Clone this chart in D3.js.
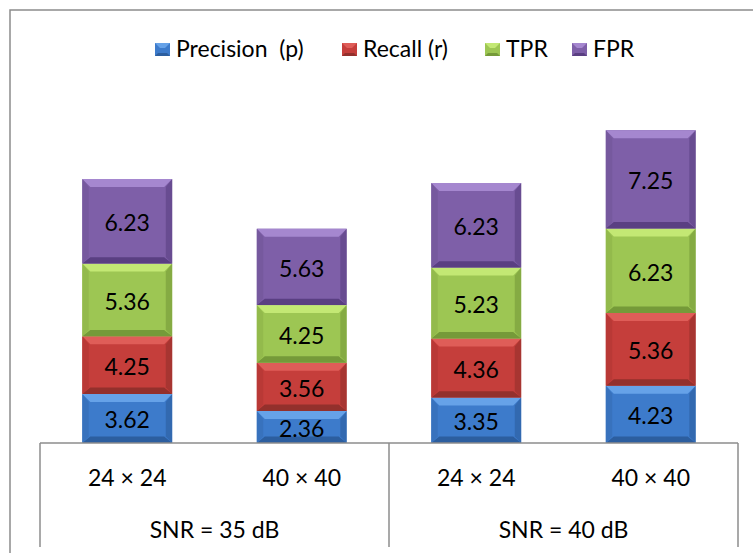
<!DOCTYPE html>
<html>
<head>
<meta charset="utf-8">
<script src="https://cdn.jsdelivr.net/npm/d3@7"></script>
<style>
  body { margin: 0; background: #fff; }
  svg { display: block; font-family: Lato, "Open Sans", sans-serif; }
</style>
</head>
<body>
<svg id="chart" width="753" height="553"></svg>
<script>
const categories = ["24 × 24", "40 × 40", "24 × 24", "40 × 40"];
const groups = ["SNR = 35 dB", "SNR = 40 dB"];
const seriesNames = ["Precision  (p)", "Recall (r)", "TPR", "FPR"];
const precision = [3.62, 2.36, 3.35, 4.23];
const recall = [4.25, 3.56, 4.36, 5.36];
const tpr = [5.36, 4.25, 5.23, 6.23];
const fpr = [6.23, 5.63, 6.23, 7.25];
const seriesValues = [precision, recall, tpr, fpr];
const colors = [
  { main: "#3d7bcb", light: "#66a2e8", dark: "#2c5e9f", side: "#3872bd" },
  { main: "#c53e3b", light: "#df5d58", dark: "#93302c", side: "#b93936" },
  { main: "#9dc653", light: "#c3e874", dark: "#759a39", side: "#93ba4c" },
  { main: "#7e5fa8", light: "#a587cf", dark: "#5a3f82", side: "#76599e" }
];

const svg = d3.select("#chart");
const left = 40, right = 738, baseY = 443;

svg.append("path").attr("d", "M10,553 V10 H753").attr("fill", "none")
  .attr("stroke", "#8c8c8c").attr("stroke-width", 1.5);

const x = d3.scaleBand().domain(d3.range(categories.length)).range([left, right]).paddingInner(0.485).paddingOuter(0.2425);
const y = d3.scaleLinear().domain([0, 25]).range([baseY, 104]);

const rows = categories.map((c, i) => {
  const o = { i };
  seriesNames.forEach((s, k) => o[s] = seriesValues[k][i]);
  return o;
});
const stack = d3.stack().keys(seriesNames)(rows);

const bev = 8;
stack.forEach((layer, k) => {
  const c = colors[k];
  const g = svg.append("g");
  layer.forEach(d => {
    const x0 = x(d.data.i), x1 = x0 + x.bandwidth();
    const yT = y(d[1]), yB = y(d[0]);
    const h = yB - yT;
    const b = Math.min(bev, h / 3);
    const seg = g.append("g");
    seg.append("rect").attr("x", x0).attr("y", yT).attr("width", x1 - x0).attr("height", h).attr("fill", c.main);
    seg.append("polygon").attr("points", [[x0, yT], [x1, yT], [x1 - b, yT + b], [x0 + b, yT + b]].join(" ")).attr("fill", c.light);
    seg.append("polygon").attr("points", [[x0, yB], [x1, yB], [x1 - b, yB - b * 0.8], [x0 + b, yB - b * 0.8]].join(" ")).attr("fill", c.dark);
    seg.append("polygon").attr("points", [[x0, yT], [x0 + b * 0.8, yT + b], [x0 + b * 0.8, yB - b * 0.8], [x0, yB]].join(" ")).attr("fill", c.side);
    seg.append("polygon").attr("points", [[x1, yT], [x1 - b * 0.8, yT + b], [x1 - b * 0.8, yB - b * 0.8], [x1, yB]].join(" ")).attr("fill", c.dark).attr("opacity", 0.6);
    seg.append("text").attr("x", (x0 + x1) / 2).attr("y", (yT + yB) / 2 + 10)
      .attr("text-anchor", "middle").attr("font-size", 23).attr("fill", "#000")
      .text(seriesValues[k][d.data.i].toFixed(2));
  });
});

const axisCol = "#8c8c8c";
svg.append("line").attr("x1", left).attr("x2", right).attr("y1", baseY).attr("y2", baseY).attr("stroke", axisCol).attr("stroke-width", 1.5);
const sepXs = [left, (x(1) + x.bandwidth() + x(2)) / 2, right];
sepXs.forEach(sx => {
  svg.append("line").attr("x1", sx).attr("x2", sx).attr("y1", baseY).attr("y2", 547).attr("stroke", axisCol).attr("stroke-width", 1.5);
});

categories.forEach((c, i) => {
  svg.append("text").attr("x", x(i) + x.bandwidth() / 2).attr("y", 486).attr("text-anchor", "middle")
    .attr("font-size", 23).attr("fill", "#000").text(c);
});
groups.forEach((gname, j) => {
  svg.append("text").attr("x", (sepXs[j] + sepXs[j + 1]) / 2).attr("y", 538).attr("text-anchor", "middle")
    .attr("font-size", 23).attr("fill", "#000").text(gname);
});

const legendX = [155, 342, 485, 572];
seriesNames.forEach((s, k) => {
  const c = colors[k];
  const lx = legendX[k], ly = 43;
  const g = svg.append("g");
  g.append("rect").attr("x", lx).attr("y", ly).attr("width", 15).attr("height", 13).attr("fill", c.main);
  g.append("polygon").attr("points", [[lx, ly], [lx + 15, ly], [lx + 10, ly + 5], [lx + 5, ly + 5]].join(" ")).attr("fill", c.light);
  g.append("polygon").attr("points", [[lx, ly + 13], [lx + 15, ly + 13], [lx + 12, ly + 10], [lx + 3, ly + 10]].join(" ")).attr("fill", c.dark);
  g.append("text").attr("x", lx + 21).attr("y", ly + 14).attr("font-size", 23).attr("fill", "#000")
    .style("white-space", "pre").text(s);
});
</script>
</body>
</html>
